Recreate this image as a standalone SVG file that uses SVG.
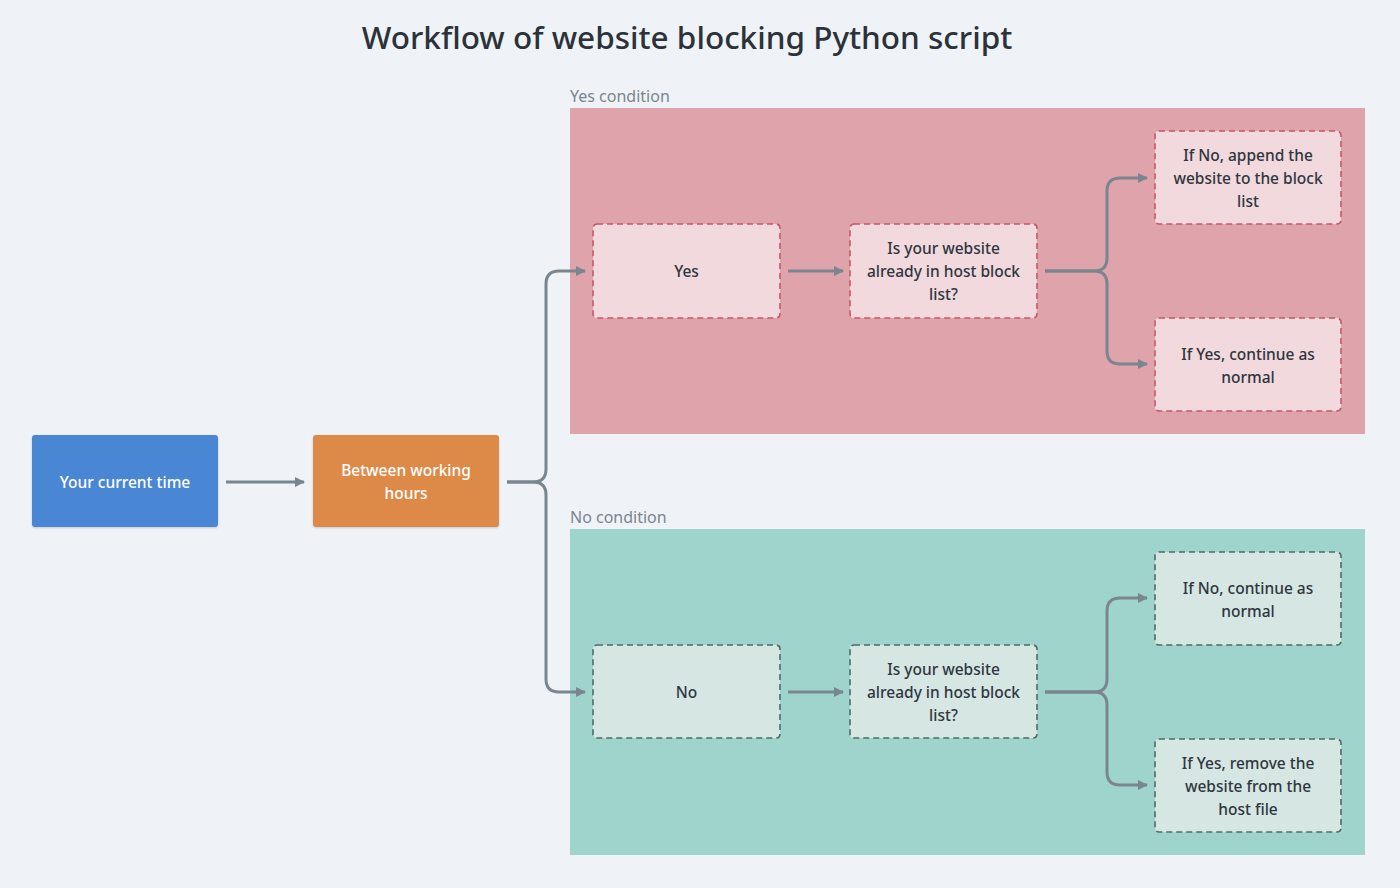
<svg xmlns="http://www.w3.org/2000/svg" width="1400" height="888" viewBox="0 0 1400 888">
<defs>
<marker id="arr" viewBox="0 0 10 10" refX="9" refY="5" markerWidth="3.4" markerHeight="3.4" orient="auto" markerUnits="strokeWidth">
<path d="M0,0 L10,5 L0,10 z" fill="#7b8590"/>
</marker>
<filter id="sh" x="-10%" y="-10%" width="120%" height="130%">
<feDropShadow dx="0" dy="1" stdDeviation="1.2" flood-color="#000" flood-opacity="0.18"/>
</filter>
</defs>
<style>
text{font-family:"Noto Sans","DejaVu Sans",sans-serif;text-anchor:middle}
.title{font-size:31.5px;fill:#2b323a;font-weight:500}
.lbl{font-size:16px;fill:#7b8590;text-anchor:start}
.t{font-size:15.5px;fill:#2f3640;font-weight:500}
.w{font-size:15.5px;fill:#ffffff;font-weight:500}
.cy{fill:#f1d9dd;stroke:#c8566a;stroke-width:1.6;stroke-dasharray:6 4}
.cn{fill:#d6e6e3;stroke:#4d6b68;stroke-width:1.6;stroke-dasharray:6 4}
.c{fill:none;stroke:#7b8590;stroke-width:3;marker-end:url(#arr)}
</style>
<rect width="1400" height="888" fill="#eff3f7"/>
<text class="title" x="687" y="49">Workflow of website blocking Python script</text>

<g id="group-yes">
<text class="lbl" x="570" y="102">Yes condition</text>
<rect x="570" y="108" width="795" height="326" fill="#dfa3ab"/>
</g>
<g id="group-no">
<text class="lbl" x="570" y="523">No condition</text>
<rect x="570" y="529" width="795" height="326" fill="#9fd4cc"/>
</g>

<g id="connectors">
<path class="c" d="M226,482 H304"/>
<path class="c" d="M507,482 H533 Q546,482 546,469 V284 Q546,271 559,271 H585"/>
<path class="c" d="M507,482 H533 Q546,482 546,495 V679 Q546,692 559,692 H585"/>
<path class="c" d="M788,271 H843"/>
<path class="c" d="M1045,271 H1094 Q1107,271 1107,258 V191 Q1107,178 1120,178 H1147"/>
<path class="c" d="M1045,271 H1094 Q1107,271 1107,284 V351 Q1107,364 1120,364 H1147"/>
<path class="c" d="M788,692 H843"/>
<path class="c" d="M1045,692 H1094 Q1107,692 1107,679 V611 Q1107,598 1120,598 H1147"/>
<path class="c" d="M1045,692 H1094 Q1107,692 1107,705 V772 Q1107,785 1120,785 H1147"/>
</g>

<g id="n-current">
<rect x="32" y="435" width="186" height="92" rx="3" fill="#4a86d4" filter="url(#sh)"/>
<text class="w" x="125" y="488">Your current time</text>
</g>
<g id="n-between">
<rect x="313" y="435" width="186" height="92" rx="3" fill="#dd8a48" filter="url(#sh)"/>
<text class="w" x="406" y="476">Between working</text>
<text class="w" x="406" y="499">hours</text>
</g>

<g id="n-yes">
<rect class="cy" x="593" y="224" width="187" height="94" rx="4"/>
<text class="t" x="686.5" y="277">Yes</text>
</g>
<g id="n-yes-check">
<rect class="cy" x="850" y="224" width="187" height="94" rx="4"/>
<text class="t" x="943.5" y="254">Is your website</text>
<text class="t" x="943.5" y="277">already in host block</text>
<text class="t" x="943.5" y="300">list?</text>
</g>
<g id="n-yes-no">
<rect class="cy" x="1155" y="131" width="186" height="93" rx="4"/>
<text class="t" x="1248" y="161">If No, append the</text>
<text class="t" x="1248" y="184">website to the block</text>
<text class="t" x="1248" y="207">list</text>
</g>
<g id="n-yes-yes">
<rect class="cy" x="1155" y="318" width="186" height="93" rx="4"/>
<text class="t" x="1248" y="360">If Yes, continue as</text>
<text class="t" x="1248" y="383">normal</text>
</g>

<g id="n-no">
<rect class="cn" x="593" y="645" width="187" height="93" rx="4"/>
<text class="t" x="686.5" y="698">No</text>
</g>
<g id="n-no-check">
<rect class="cn" x="850" y="645" width="187" height="93" rx="4"/>
<text class="t" x="943.5" y="675">Is your website</text>
<text class="t" x="943.5" y="698">already in host block</text>
<text class="t" x="943.5" y="721">list?</text>
</g>
<g id="n-no-no">
<rect class="cn" x="1155" y="552" width="186" height="93" rx="4"/>
<text class="t" x="1248" y="594">If No, continue as</text>
<text class="t" x="1248" y="617">normal</text>
</g>
<g id="n-no-yes">
<rect class="cn" x="1155" y="739" width="186" height="93" rx="4"/>
<text class="t" x="1248" y="769">If Yes, remove the</text>
<text class="t" x="1248" y="792">website from the</text>
<text class="t" x="1248" y="815">host file</text>
</g>
</svg>
